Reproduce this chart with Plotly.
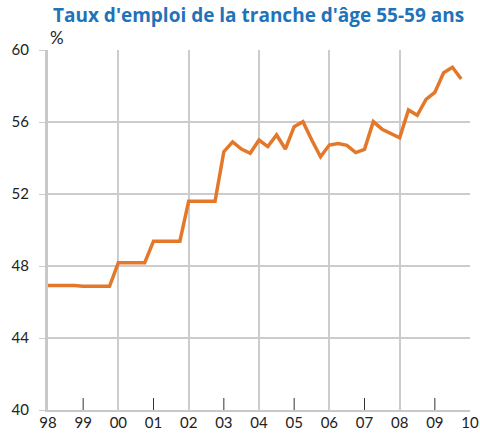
import plotly.graph_objects as go

# Annual values (1998-2002), repeated for each quarter
annual_years = [1998, 1999, 2000, 2001, 2002]
annual_values = [46.92, 46.87, 48.18, 49.38, 51.6]

# Quarterly values 2003Q1 - 2009Q4
quarterly_values = [
    54.35, 54.9, 54.5, 54.26,
    55.0, 54.63, 55.28, 54.5,
    55.74, 56.02, 55.0, 54.07,
    54.72, 54.8, 54.7, 54.3,
    54.48, 56.02, 55.6, 55.37,
    55.12, 56.67, 56.37, 57.25,
    57.64, 58.74, 59.04, 58.39,
]

year_ticks = list(range(1998, 2011))
year_labels = ["98", "99", "00", "01", "02", "03", "04", "05", "06", "07", "08", "09", "10"]

x = []
y = []
for yr, v in zip(annual_years, annual_values):
    for q in range(4):
        x.append(yr + q / 4)
        y.append(v)
for i, v in enumerate(quarterly_values):
    x.append(2003 + i / 4)
    y.append(v)

odd_years = [year_ticks[i] for i in range(len(year_ticks)) if i % 2 == 1]
even_years = [year_ticks[i] for i in range(len(year_ticks)) if i % 2 == 0]

fig = go.Figure()
# invisible helper trace so the grid axis (x2) is drawn
fig.add_trace(go.Scatter(x=x, y=y, mode="lines", line=dict(width=0),
                         opacity=0, hoverinfo="skip", xaxis="x2"))
fig.add_trace(go.Scatter(x=x, y=y, mode="lines",
                         line=dict(color="#E4782A", width=3.5),
                         hoverinfo="skip", xaxis="x"))

FONT = "Lato, 'Open Sans', sans-serif"
tickfont = dict(family=FONT, size=15, color="#222222")

# short inner tick marks at odd years (plot area is 360 px tall -> 12 px)
tick_shapes = [dict(type="line", xref="x", yref="paper", x0=yr, x1=yr,
                    y0=0, y1=12 / 360, layer="above",
                    line=dict(color="#333333", width=1))
               for yr in odd_years]

fig.update_layout(
    width=480, height=445,
    margin=dict(l=48, r=10, t=50, b=35, autoexpand=False),
    paper_bgcolor="white", plot_bgcolor="white",
    showlegend=False,
    title=dict(text="<b>Taux d'emploi de la tranche d'âge 55-59 ans</b>",
               x=0.967, xanchor="right", y=0.966, yanchor="middle",
               font=dict(family="'Open Sans', sans-serif", size=19, color="#1F73BA")),
    xaxis=dict(range=[1998, 2010], tickmode="array",
               tickvals=year_ticks, ticktext=year_labels,
               ticks="", ticklabelstandoff=-2,
               showgrid=False, zeroline=False, showline=True,
               linecolor="#C8C8C8", linewidth=2,
               tickfont=tickfont, anchor="y"),
    xaxis2=dict(range=[1998, 2010], tickmode="array",
                tickvals=even_years, showticklabels=False, ticks="",
                showgrid=True, gridcolor="#CCCCCC", gridwidth=1.5,
                zeroline=False, showline=False,
                overlaying="x", side="bottom", anchor="y"),
    yaxis=dict(range=[40, 60], dtick=4, tick0=40,
               showgrid=True, gridcolor="#CCCCCC", gridwidth=1.5,
               ticks="outside", ticklen=6, tickcolor="#CCCCCC",
               ticklabelstandoff=7,
               showline=True, linecolor="#C8C8C8", linewidth=3,
               zeroline=False, tickfont=tickfont),
    shapes=tick_shapes,
    annotations=[dict(text="%", xref="paper", yref="paper", x=0.0, y=1.0,
                      xanchor="left", yanchor="bottom", showarrow=False,
                      font=dict(family=FONT, size=17, color="#222222"))],
)

fig.write_html("out.html", config={"displayModeBar": False},
               post_script="document.body.style.margin='0';document.body.style.padding='0';")
